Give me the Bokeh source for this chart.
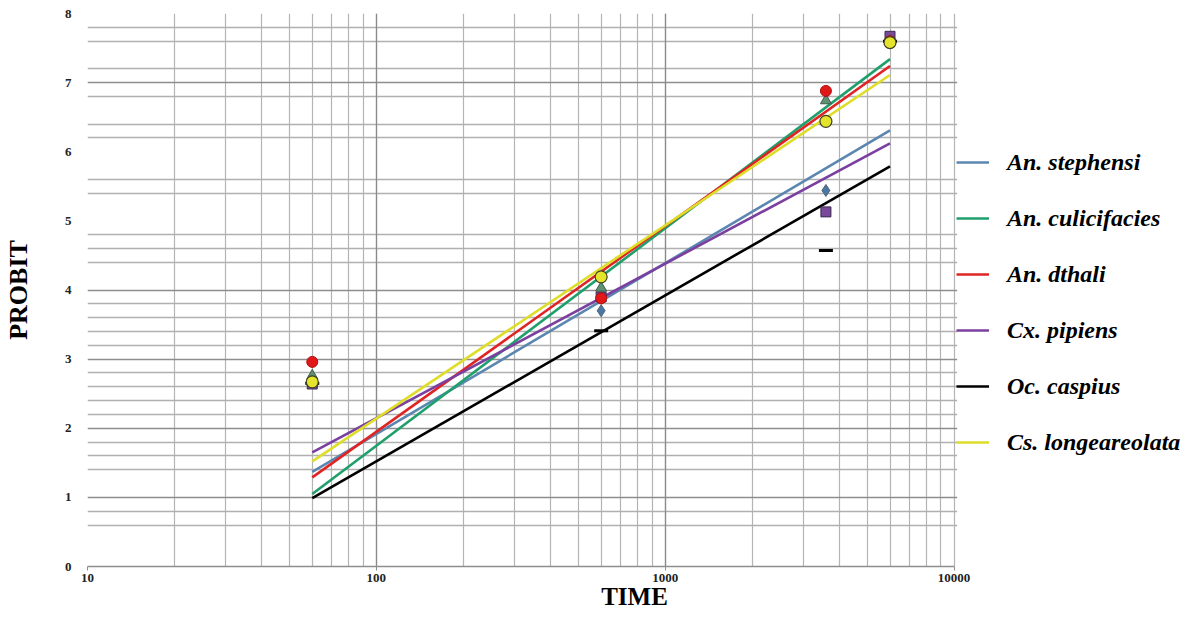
from bokeh.plotting import figure
from bokeh.models import (FixedTicker, Grid, Legend, LegendItem, Range1d,
                          CustomJSTickFormatter, BoxAnnotation)
from bokeh.embed import file_html
from bokeh.resources import INLINE

# ---- data ----
species = ["An. stephensi", "An. culicifacies", "An. dthali",
           "Cx. pipiens", "Oc. caspius", "Cs. longeareolata"]
colors = ["#5b86b0", "#1f9f6b", "#e02424", "#7b3fa0", "#000000", "#dede28"]

obs_times = [60, 600, 3600, 6000]
stephensi_obs = [2.70, 3.70, 5.44, 7.60]
culicifacies_obs = [2.76, 4.03, 6.74, 7.60]
dthali_obs = [2.96, 3.88, 6.88, 7.60]
pipiens_obs = [2.64, 3.90, 5.13, 7.67]
caspius_obs = [2.65, 3.41, 4.57, 7.60]
longeareolata_obs = [2.67, 4.19, 6.44, 7.58]

fit_times = [60, 6000]
stephensi_fit = [1.37, 6.31]
culicifacies_fit = [1.05, 7.34]
dthali_fit = [1.29, 7.24]
pipiens_fit = [1.65, 6.12]
caspius_fit = [0.99, 5.79]
longeareolata_fit = [1.52, 7.11]

x_tick_values = [10, 100, 1000, 10000]
x_grid_values = [20, 30, 40, 50, 60, 70, 80, 90, 100,
                 200, 300, 400, 500, 600, 700, 800, 900, 1000,
                 2000, 3000, 4000, 5000, 6000, 7000, 8000, 9000, 10000]
y_tick_values = [0, 1, 2, 3, 4, 5, 6, 7, 8]
y_major_grid = [0, 1, 2, 3, 4, 7, 8]
y_minor_grid = [0.6, 0.8, 1.4, 1.6, 1.8, 2.2, 2.4, 2.6, 2.8, 3.2, 3.4, 3.6, 3.8,
                4.4, 4.6, 4.8, 5.4, 5.6, 6.2, 6.4, 6.8, 7.2, 7.6, 7.8]

fits = [stephensi_fit, culicifacies_fit, dthali_fit, pipiens_fit,
        caspius_fit, longeareolata_fit]

FONT = "Liberation Serif"

# layout: the axis area (10..10000) spans 865 px; the frame continues to the
# right edge so that the legend can sit beside the axes without being clipped
FIG_W, FIG_H = 1181, 612
LEFT = 80
AXIS_PX = 865
frame_px = 1092
x_end = 10 ** (1 + 3 * frame_px / AXIS_PX)

p = figure(width=FIG_W, height=FIG_H, x_axis_type="log",
           x_range=Range1d(10, x_end), y_range=Range1d(0, 8),
           output_backend="svg", toolbar_location=None,
           min_border_left=LEFT, min_border_right=0,
           min_border_top=13, min_border_bottom=30)
p.outline_line_color = None
p.background_fill_color = "white"

# grids
p.xgrid.ticker = FixedTicker(ticks=x_grid_values)
p.xgrid.grid_line_color = "#b4b4b4"
p.xgrid.grid_line_width = 1.2
p.ygrid.ticker = FixedTicker(ticks=y_major_grid)
p.ygrid.grid_line_color = "#8e8e8e"
p.ygrid.grid_line_width = 1.6
minor = Grid(dimension=1, ticker=FixedTicker(ticks=y_minor_grid),
             grid_line_color="#b0b0b0", grid_line_width=1.4)
p.add_layout(minor)
dec = Grid(dimension=0, ticker=FixedTicker(ticks=[100, 1000]),
           grid_line_color="#8a8a8a", grid_line_width=1.3)
p.add_layout(dec)

# axes
xa = p.xaxis[0]
xa.bounds = (10, 10000)
xa.ticker = FixedTicker(ticks=x_tick_values, minor_ticks=[])
xa.formatter = CustomJSTickFormatter(code="return tick.toFixed(0)")
xa.axis_line_color = "#8e8e8e"
xa.axis_line_width = 1.6
xa.major_tick_line_color = "#8e8e8e"
xa.major_tick_out = 4
xa.major_tick_in = 0
xa.minor_tick_line_color = None
xa.major_label_standoff = 3
xa.major_label_text_font = FONT
xa.major_label_text_font_style = "bold"
xa.major_label_text_font_size = "13px"
xa.major_label_text_color = "#222222"
xa.axis_label = "TIME"
xa.axis_label_text_font = FONT
xa.axis_label_text_font_style = "bold"
xa.axis_label_text_font_size = "25px"
xa.axis_label_text_color = "#000000"
xa.axis_label_standoff = -2

ya = p.yaxis[0]
ya.ticker = FixedTicker(ticks=y_tick_values, minor_ticks=[])
ya.axis_line_color = None
ya.major_tick_line_color = None
ya.minor_tick_line_color = None
ya.major_label_standoff = 10
ya.major_label_text_font = FONT
ya.major_label_text_font_style = "bold"
ya.major_label_text_font_size = "13px"
ya.major_label_text_color = "#222222"
ya.axis_label = "PROBIT"
ya.axis_label_text_font = FONT
ya.axis_label_text_font_style = "bold"
ya.axis_label_text_font_size = "26px"
ya.axis_label_text_color = "#000000"
ya.axis_label_standoff = 29

# regression lines
line_renderers = []
for name, col, fy in zip(species, colors, fits):
    r = p.line(fit_times, fy, line_color=col, line_width=2.6)
    line_renderers.append(r)

# observed points
p.scatter(obs_times, stephensi_obs, marker="diamond", size=12,
          fill_color="#4a78a4", line_color="#55667a", line_width=1)
p.scatter(obs_times, pipiens_obs, marker="square", size=10,
          fill_color="#7a4a9a", line_color="#3a2a50", line_width=1)
p.scatter(obs_times, caspius_obs, marker="dash", size=14,
          line_color="#000000", line_width=3)
p.scatter(obs_times, culicifacies_obs, marker="triangle", size=11,
          fill_color="#5f9272", line_color="#3c5c4c", line_width=1)
p.scatter(obs_times, dthali_obs, marker="circle", size=11,
          fill_color="#e01818", line_color="#b01010", line_width=1)
p.scatter(obs_times, longeareolata_obs, marker="circle", size=12,
          fill_color="#e4e42c", line_color="#404020", line_width=1.2)

# blank out the grid beyond the 10000 border (legend area)
cover = BoxAnnotation(left=10250, fill_color="white", fill_alpha=1.0,
                      line_alpha=0)
p.add_layout(cover)

legend = Legend(items=[LegendItem(label=n, renderers=[r])
                       for n, r in zip(species, line_renderers)],
                location=(869, 109), orientation="vertical",
                padding=0, margin=0, spacing=26,
                glyph_width=33, glyph_height=30, label_height=30,
                label_standoff=18,
                label_text_font=FONT, label_text_font_style="bold italic",
                label_text_font_size="24px", label_text_color="#000000",
                border_line_color=None, background_fill_alpha=0)
p.add_layout(legend, "center")

open("out.html", "w").write(file_html(p, INLINE))
